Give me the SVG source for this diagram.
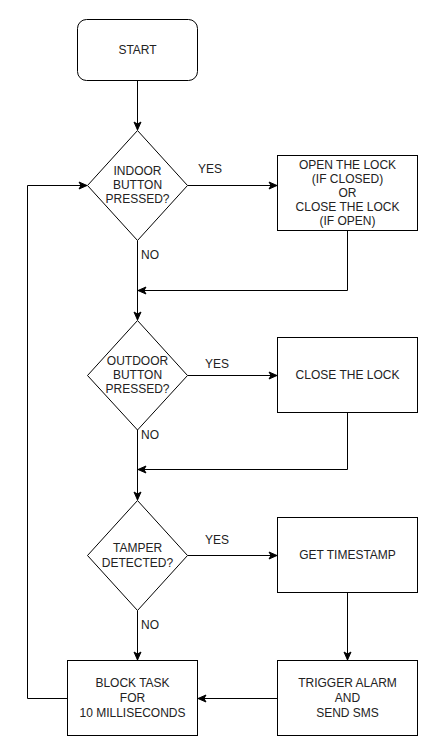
<svg xmlns="http://www.w3.org/2000/svg" width="438" height="756" viewBox="0 0 438 756">
<defs>
<marker id="arr" markerWidth="10" markerHeight="10" viewBox="0 0 10 10" refX="9" refY="5" orient="auto" markerUnits="userSpaceOnUse">
<path d="M1,1.5 L9,5 L1,8.5 L3,5 Z" fill="#000" stroke="#000" stroke-width="1"/>
</marker>
<style>
.n{fill:#fff;stroke:#000;stroke-width:1}
.c{fill:none;stroke:#000;stroke-width:1}
text{font-family:"Liberation Sans",Arial,sans-serif;font-size:12px;fill:#222;text-anchor:middle;dominant-baseline:central}
.l{text-anchor:start}
</style>
</defs>
<rect width="438" height="756" fill="#fff"/>
<g id="connectors">
<path class="c" d="M137.5,80.5 V130" marker-end="url(#arr)"/>
<path class="c" d="M187.5,185.5 H277" marker-end="url(#arr)"/>
<path class="c" d="M137.5,240.5 V320" marker-end="url(#arr)"/>
<path class="c" d="M347.5,230.5 V290.5 H138" marker-end="url(#arr)"/>
<path class="c" d="M187.5,375.5 H277" marker-end="url(#arr)"/>
<path class="c" d="M137.5,430 V500" marker-end="url(#arr)"/>
<path class="c" d="M347.5,412.5 V469.5 H138" marker-end="url(#arr)"/>
<path class="c" d="M187.5,555.5 H277" marker-end="url(#arr)"/>
<path class="c" d="M137.5,610.5 V660" marker-end="url(#arr)"/>
<path class="c" d="M347.5,592.5 V660" marker-end="url(#arr)"/>
<path class="c" d="M277.5,698.5 H198" marker-end="url(#arr)"/>
<path class="c" d="M67.5,698.5 H27.5 V185.5 H87" marker-end="url(#arr)"/>
<text class="l" x="198" y="169">YES</text>
<text class="l" x="141" y="255">NO</text>
<text class="l" x="205" y="364">YES</text>
<text class="l" x="141" y="435">NO</text>
<text class="l" x="205" y="540">YES</text>
<text class="l" x="141" y="625">NO</text>
</g>
<g id="start">
<rect class="n" x="77.5" y="19.5" width="120" height="61" rx="9"/>
<text x="137.5" y="50">START</text>
</g>
<g id="indoor">
<path class="n" d="M137.5,130.5 L187.5,185.5 L137.5,240.5 L87.5,185.5 Z"/>
<text x="137.5" y="171">INDOOR</text>
<text x="137.5" y="185">BUTTON</text>
<text x="137.5" y="199">PRESSED?</text>
</g>
<g id="toggle">
<rect class="n" x="277.5" y="155.5" width="140" height="75"/>
<text x="347.5" y="165">OPEN THE LOCK</text>
<text x="347.5" y="179">(IF CLOSED)</text>
<text x="347.5" y="193">OR</text>
<text x="347.5" y="207">CLOSE THE LOCK</text>
<text x="347.5" y="221">(IF OPEN)</text>
</g>
<g id="outdoor">
<path class="n" d="M137.5,320.5 L187.5,375.5 L137.5,430 L87.5,375.5 Z"/>
<text x="137.5" y="361">OUTDOOR</text>
<text x="137.5" y="375">BUTTON</text>
<text x="137.5" y="389">PRESSED?</text>
</g>
<g id="close">
<rect class="n" x="277.5" y="337.5" width="140" height="75"/>
<text x="347.5" y="375">CLOSE THE LOCK</text>
</g>
<g id="tamper">
<path class="n" d="M137.5,500.5 L187.5,555.5 L137.5,610.5 L87.5,555.5 Z"/>
<text x="137.5" y="548">TAMPER</text>
<text x="137.5" y="563">DETECTED?</text>
</g>
<g id="timestamp">
<rect class="n" x="277.5" y="517.5" width="140" height="75"/>
<text x="347.5" y="555">GET TIMESTAMP</text>
</g>
<g id="block">
<rect class="n" x="67.5" y="660.5" width="130" height="75"/>
<text x="132.5" y="683">BLOCK TASK</text>
<text x="132.5" y="698">FOR</text>
<text x="132.5" y="713">10 MILLISECONDS</text>
</g>
<g id="alarm">
<rect class="n" x="277.5" y="660.5" width="140" height="75"/>
<text x="347.5" y="683">TRIGGER ALARM</text>
<text x="347.5" y="698">AND</text>
<text x="347.5" y="713">SEND SMS</text>
</g>
</svg>
